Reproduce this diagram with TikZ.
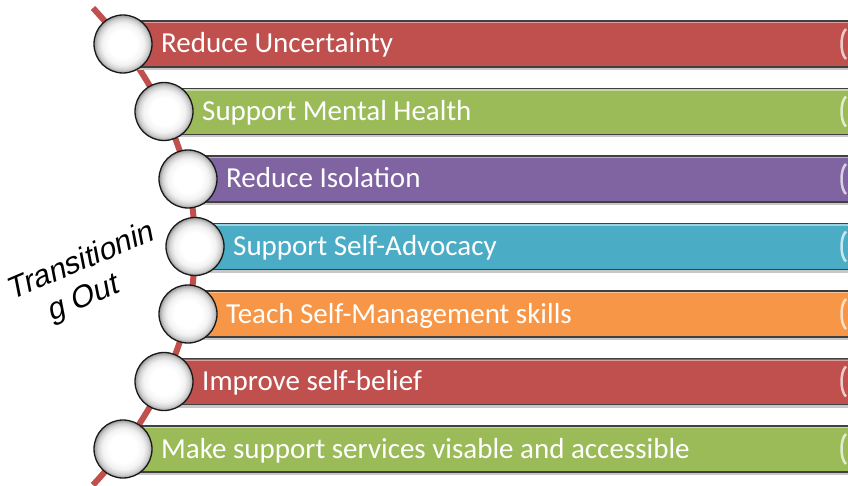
\documentclass[tikz,border=0pt]{standalone}
\usepackage{fontspec}
\setmainfont{Carlito}
\newfontfamily\arialslant{Liberation Sans}[FakeSlant=0.21]
\definecolor{cRed}{HTML}{C0504D}
\definecolor{cGreen}{HTML}{9BBB59}
\definecolor{cPurple}{HTML}{8064A2}
\definecolor{cCyan}{HTML}{4BACC6}
\definecolor{cOrange}{HTML}{F79646}
\pgfdeclareradialshading{myball}{\pgfpoint{0bp}{0bp}}{color(0bp)=(white); color(12bp)=(white); color(18bp)=(black!5); color(22bp)=(black!18); color(25bp)=(black!40); color(30bp)=(black!40)}
\begin{document}
\begin{tikzpicture}[x=1pt,y=-1pt,
  barbox/.style={rectangle, draw=black!75, line width=1.2pt, minimum width=760pt, minimum height=46pt, inner sep=0pt, anchor=west},
  shadowbox/.style={rectangle, fill=black!22, minimum width=760pt, minimum height=46pt, inner sep=0pt, anchor=west},
  ballnode/.style={circle, minimum size=58pt, inner sep=0pt, draw=black!90, line width=1.3pt, shade, shading=myball},
  lbl/.style={anchor=base west, text=white, font=\fontsize{29}{33}\selectfont, inner sep=0pt},
  pathline/.style={line width=6pt, draw=cRed},
  titletext/.style={rotate=23, align=center, inner sep=0pt, font=\arialslant\fontsize{30.5}{35}\selectfont}
]
\useasboundingbox (0,0) rectangle (848,486);
\clip (0,0) rectangle (848,486);
% centre points of the balls
\foreach \n/\x/\y in {0/123/44, 1/164/111.5, 2/188/179, 3/195/246.5, 4/188/314, 5/164/381.5, 6/123/449}
  \coordinate (p\n) at (\x,\y);
\coordinate (top) at (93,8);
\coordinate (bot) at (93,485);
% red line through the balls
\draw[pathline] plot[smooth] coordinates {(top) (p0) (p1) (p2) (p3) (p4) (p5) (p6) (bot)};
% bars
\foreach \n/\y/\col/\txt in {0/44/cRed/Reduce Uncertainty, 1/111.5/cGreen/Support Mental Health, 2/179/cPurple/Reduce Isolation, 3/246.5/cCyan/Support Self-Advocacy, 4/314/cOrange/Teach Self-Management skills, 5/381.5/cRed/Improve self-belief, 6/449/cGreen/Make support services visable and accessible}{
  \node[shadowbox] (s\n) at ([shift={(1,3)}]p\n) {};
  \node[barbox, fill=\col] (b\n) at (p\n) {};
  \draw[\col!55!white, line width=1.2pt] ([shift={(2,2.2)}]b\n.north west) -- ([shift={(-2,2.2)}]b\n.north east);
  \draw[\col!30!white, line width=2.5pt] (846,\y-15) .. controls (840,\y-10) and (840,\y+10) .. (846,\y+15);
  \node[lbl] (t\n) at ([shift={(38,9)}]p\n) {\txt};
  \node[ballnode] (c\n) at (p\n) {};
}
\node[titletext] (title) at (87,279) {Transitionin\\g Out\hspace*{24pt}};
\end{tikzpicture}
\end{document}
